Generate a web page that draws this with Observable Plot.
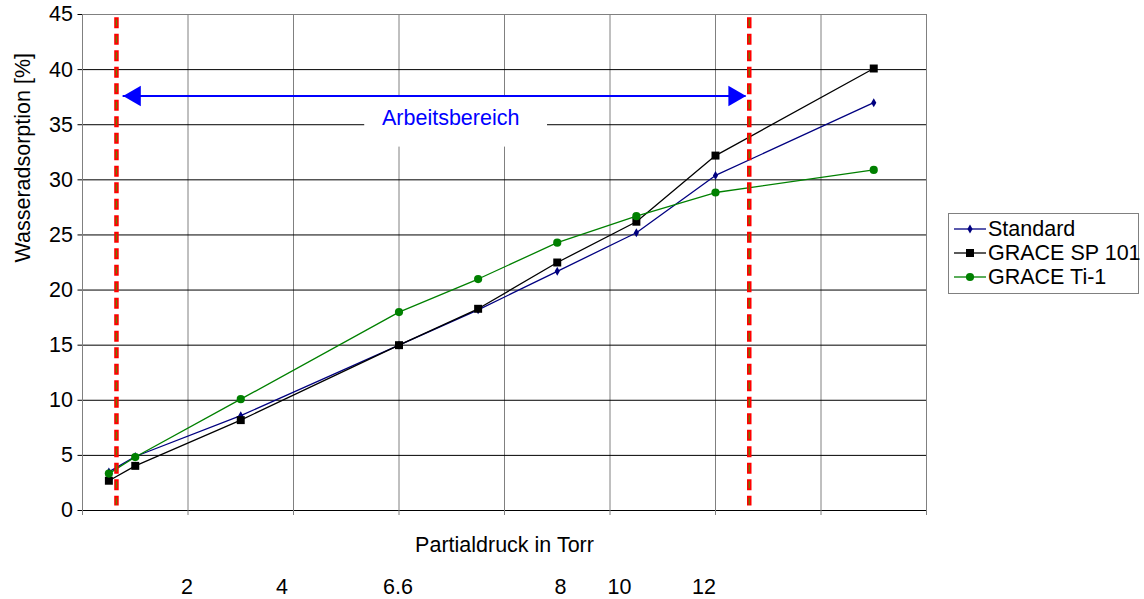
<!DOCTYPE html>
<html>
<head>
<meta charset="utf-8">
<script src="https://cdn.jsdelivr.net/npm/d3@7"></script>
<script src="https://cdn.jsdelivr.net/npm/@observablehq/plot@0.6"></script>
<style>
  body { margin: 0; background: #fff; font-family: "Liberation Sans", Arial, sans-serif; }
  #chart { position: relative; width: 1144px; height: 599px; overflow: hidden; }
  #legend { position: absolute; left: 948px; top: 213px; width: 191px; height: 81px;
            border: 1px solid #808080; box-sizing: border-box; background: #fff; padding-top: 3px; }
  .row { height: 24px; display: flex; align-items: center; font-size: 21.5px; color: #000; white-space: nowrap; }
  .row svg { margin-left: 5px; margin-right: 2px; flex: none; }
</style>
</head>
<body>
<div id="chart"></div>
<script>
// ---- data ----
const xPositions = [0.25, 0.5, 1.5, 3, 3.75, 4.5, 5.25, 6, 7.5];
const standard   = [3.5, 4.9, 8.6, 15.0, 18.2, 21.7, 25.2, 30.4, 37.0];
const sp101      = [2.7, 4.05, 8.2, 15.0, 18.3, 22.5, 26.2, 32.2, 40.1];
const ti1        = [3.35, 4.85, 10.1, 18.0, 21.0, 24.3, 26.7, 28.85, 30.9];
const seriesNames = ["Standard", "GRACE SP 101", "GRACE Ti-1"];
const seriesValues = [standard, sp101, ti1];
const seriesColors = ["#000080", "#000000", "#008000"];
const seriesSymbols = ["diamond", "square", "circle"];
const seriesRadius = [2.7, 4.5, 4.1];

const yTicks = d3.range(0, 46, 5);
const xGrid = d3.range(0, 9, 1);
const pressureLabels = ["2", "4", "6.6", "8", "10", "12"];
const pressureLabelAt = [0.99, 1.89, 2.99, 4.53, 5.09, 5.89];

const workingRange = [0.322, 6.32];   // red dashed limits
const arrowSpan = [0.385, 6.29];      // arrow tips
const arrowY = 37.6;
const rangeLabel = "Arbeitsbereich";
const rangeLabelBox = {x1: 2.675, x2: 4.408, y1: 32.97, y2: 37.5};
const rangeLabelPos = {x: 3.49, y: 35.6};
const xLabel = "Partialdruck in Torr";
const yLabel = "Wasseradsorption [%]";

const seriesMarks = seriesNames.flatMap((name, s) => {
  const rows = xPositions.map((x, i) => ({x, y: seriesValues[s][i], series: name}));
  return [
    Plot.line(rows, {x: "x", y: "y", stroke: seriesColors[s], strokeWidth: 1.3}),
    Plot.dot(rows, {x: "x", y: "y", symbol: seriesSymbols[s], r: seriesRadius[s], fill: seriesColors[s], stroke: null})
  ];
});

const chart = Plot.plot({
  width: 1144,
  height: 599,
  marginLeft: 82,
  marginRight: 218,
  marginTop: 14,
  marginBottom: 89,
  x: {domain: [0, 8]},
  y: {domain: [0, 45]},
  style: {fontFamily: "'Liberation Sans', Arial, sans-serif", fontSize: "21.5px", color: "#000", background: "#fff"},
  marks: [
    Plot.gridX(xGrid, {stroke: "#808080", strokeOpacity: 1}),
    Plot.gridY(yTicks.slice(0, -1), {stroke: "#000", strokeOpacity: 1}),
    Plot.ruleY([45], {stroke: "#808080"}),
    Plot.ruleX([8], {stroke: "#808080"}),
    Plot.ruleX([0], {stroke: "#808080"}),
    Plot.ruleY([0], {stroke: "#000"}),
    Plot.axisY(yTicks, {tickSize: 4.5, tickPadding: 5, label: null, stroke: "#000"}),
    Plot.axisX(xGrid, {tickSize: 5, tickFormat: () => "", label: null, stroke: "#808080"}),
    Plot.axisX(pressureLabelAt, {tickSize: 0, tickPadding: 68, label: null,
      tickFormat: d => pressureLabels[pressureLabelAt.indexOf(d)]}),
    Plot.text([xLabel], {frameAnchor: "bottom", dy: 41, text: d => d}),
    Plot.text([yLabel], {frameAnchor: "left", dx: -59, rotate: -90, text: d => d}),
    Plot.rect([rangeLabelBox], {x1: "x1", x2: "x2", y1: "y1", y2: "y2", fill: "#fff"}),
    Plot.text([rangeLabel], {x: () => rangeLabelPos.x, y: () => rangeLabelPos.y, text: d => d, fill: "#0000ff", fontSize: 21.5}),
    ...seriesMarks,
    Plot.ruleX(workingRange, {y1: 44.7, y2: 0.4, stroke: "#ff0000", strokeWidth: 4.5, strokeDasharray: "11,5.5"}),
    Plot.ruleX(workingRange, {y1: 44.7, y2: 0.4, stroke: "#6b7a00", strokeWidth: 1.3, strokeDasharray: "7,9.5", strokeDashoffset: -2}),
    Plot.ruleY([arrowY], {x1: arrowSpan[0], x2: arrowSpan[1], stroke: "#0000ff", strokeWidth: 2}),
    Plot.dot([arrowSpan[0]], {x: d => d, y: () => arrowY, symbol: "triangle", r: 7.6, rotate: -90, dx: 11.8, fill: "#0000ff", stroke: null}),
    Plot.dot([arrowSpan[1]], {x: d => d, y: () => arrowY, symbol: "triangle", r: 7.6, rotate: 90, dx: -11.8, fill: "#0000ff", stroke: null})
  ]
});
const container = document.getElementById("chart");
container.appendChild(chart);

// ---- legend ----
const legend = d3.select(container).append("div").attr("id", "legend");
const symbolTypes = {diamond: d3.symbolDiamond, square: d3.symbolSquare, circle: d3.symbolCircle};
seriesNames.forEach((name, s) => {
  const row = legend.append("div").attr("class", "row");
  const svg = row.append("svg").attr("width", 32).attr("height", 20);
  svg.append("line").attr("x1", 0).attr("x2", 32).attr("y1", 10).attr("y2", 10)
    .attr("stroke", seriesColors[s]).attr("stroke-width", 1.3);
  svg.append("path").attr("transform", "translate(16,10)")
    .attr("d", d3.symbol(symbolTypes[seriesSymbols[s]], Math.PI * seriesRadius[s] ** 2)())
    .attr("fill", seriesColors[s]);
  row.append("span").text(name);
});
</script>
</body>
</html>
